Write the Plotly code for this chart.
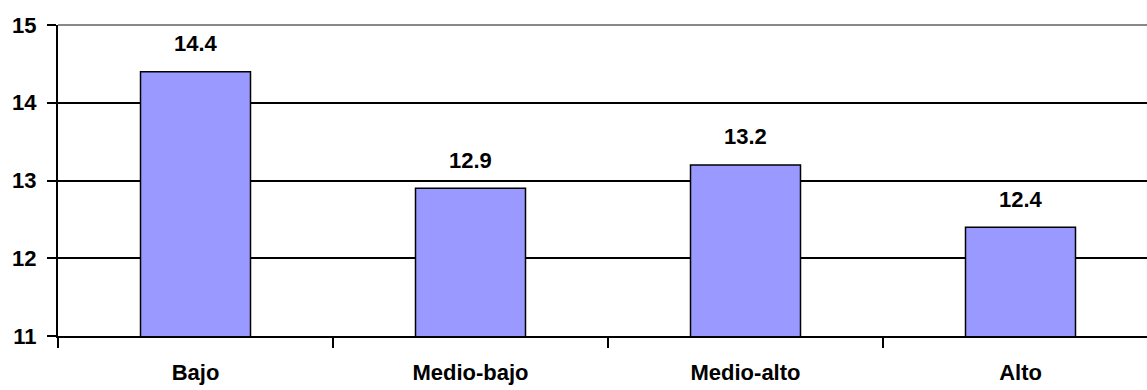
import plotly.graph_objects as go

categories = ["Bajo", "Medio-bajo", "Medio-alto", "Alto"]
values = [14.4, 12.9, 13.2, 12.4]
label_texts = ["14.4", "12.9", "13.2", "12.4"]
y_ticks = [11, 12, 13, 14, 15]

FONT = "Liberation Sans, Arial, sans-serif"
FSIZE = 22

fig = go.Figure()
fig.add_trace(go.Bar(
    x=categories, y=values,
    marker=dict(color="#9999FF", line=dict(color="black", width=1.5)),
    width=0.4, hoverinfo="skip",
))

for c, v, t in zip(categories, values, label_texts):
    fig.add_annotation(x=c, y=v, text="<b>%s</b>" % t, showarrow=False,
                       yanchor="middle", yshift=28,
                       font=dict(family=FONT, size=FSIZE, color="black"))

# top border of the plot area (grey)
fig.add_shape(type="line", xref="paper", yref="paper", x0=0, x1=1, y0=1, y1=1,
              line=dict(color="#888888", width=2), layer="above")

fig.update_layout(
    width=1147, height=390,
    margin=dict(l=58, r=0, t=25, b=54),
    paper_bgcolor="white", plot_bgcolor="white",
    showlegend=False,
    font=dict(family=FONT, size=FSIZE, color="black"),
)
fig.update_xaxes(
    range=[-0.5, -0.5 + 1089 / 275], tickson="boundaries",
    ticks="outside", ticklen=10, tickwidth=2, tickcolor="black",
    showline=True, linecolor="black", linewidth=2,
    showgrid=False, ticklabelstandoff=16,
    tickfont=dict(family=FONT, size=FSIZE, color="black", weight="bold"),
)
fig.update_yaxes(
    range=[11, 15], tickvals=y_ticks, ticktext=[str(v) for v in y_ticks],
    ticks="outside", ticklen=9, tickwidth=2, tickcolor="black",
    showline=True, linecolor="black", linewidth=2,
    showgrid=True, gridcolor="black", gridwidth=2, zeroline=False,
    ticklabelstandoff=6,
    tickfont=dict(family=FONT, size=FSIZE, color="black", weight="bold"),
)

fig.write_html("out.html")
